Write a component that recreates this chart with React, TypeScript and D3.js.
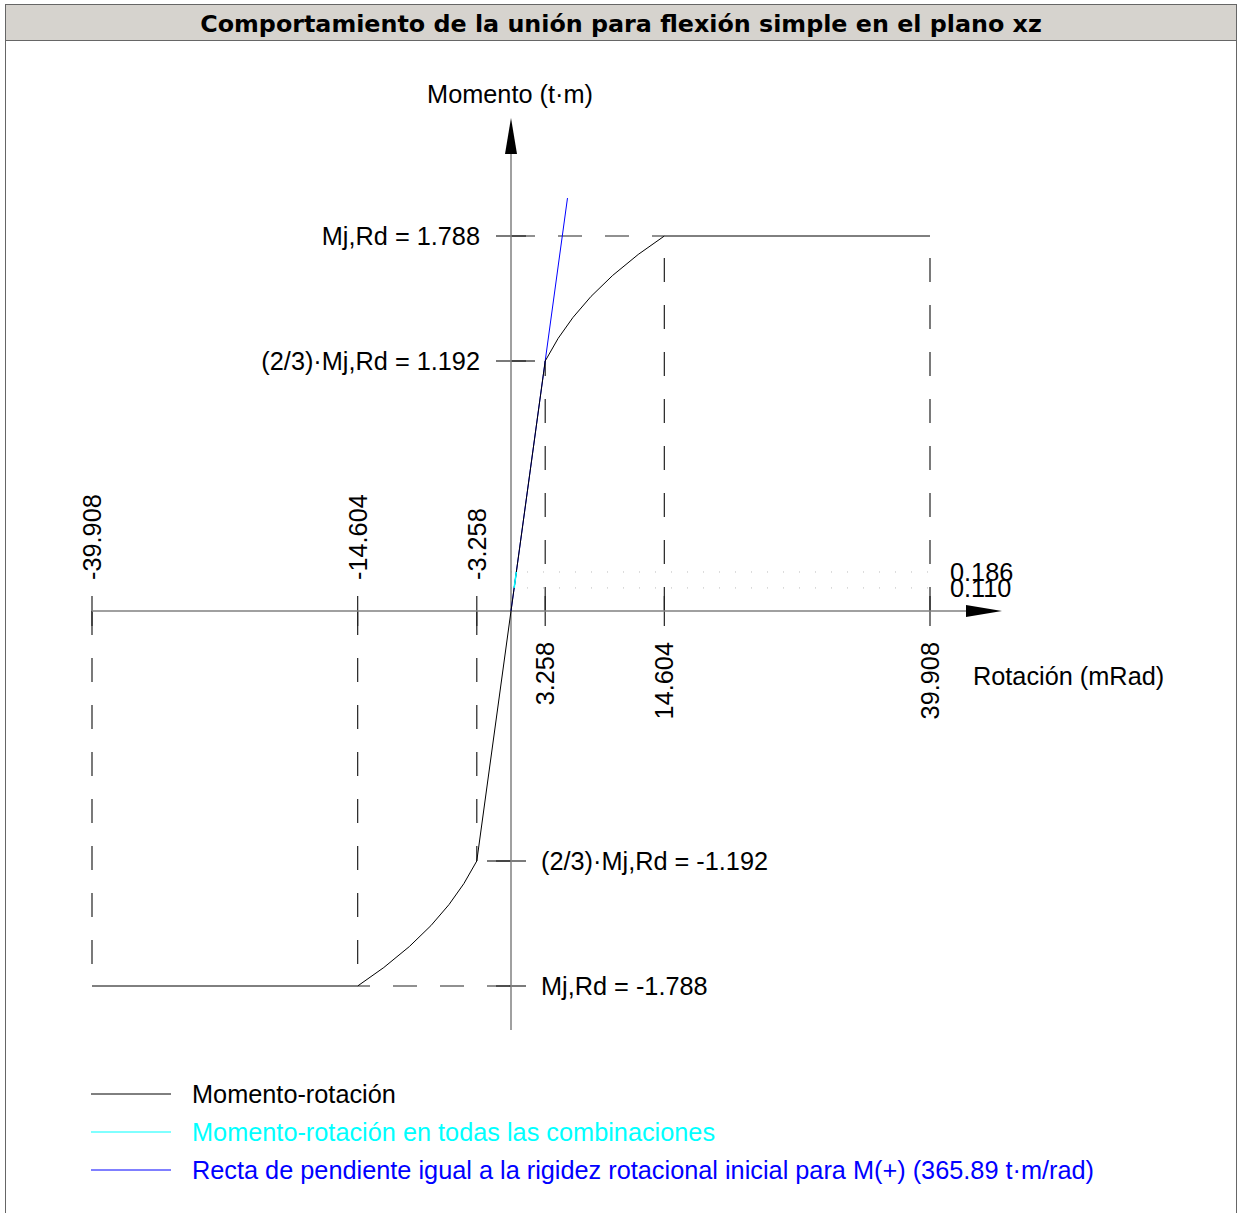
import React from "react";
import * as d3 from "d3";

// ---- data ----
const curvePhi = [-39.908, -14.604, -12.117, -9.683, -7.625, -5.907, -4.491, -3.258, 3.258, 4.491, 5.907, 7.625, 9.683, 12.117, 14.604, 39.908];
const curveM = [-1.788, -1.788, -1.7, -1.6, -1.5, -1.4, -1.3, -1.192, 1.192, 1.3, 1.4, 1.5, 1.6, 1.7, 1.788, 1.788];
const combPhi = [0.301, 0.508];
const combM = [0.110, 0.186];
const rigidPhi = [0, 5.38];
const rigidM = [0, 1.969];
const xTicks = [-39.908, -14.604, -3.258, 3.258, 14.604, 39.908];
const xTickLabels = ["-39.908", "-14.604", "-3.258", "3.258", "14.604", "39.908"];
const xTickM = [-1.788, -1.788, -1.192, 1.192, 1.788, 1.788];
const yTicks = [1.788, 1.192, -1.192, -1.788];
const yTickLabels = ["Mj,Rd = 1.788", "(2/3)·Mj,Rd = 1.192", "(2/3)·Mj,Rd = -1.192", "Mj,Rd = -1.788"];
const yTickPhi = [14.604, 3.258, -3.258, -14.604];
const combLevels = [0.186, 0.110];
const combLevelLabels = ["0.186", "0.110"];
const legendLabels = [
  "Momento-rotación",
  "Momento-rotación en todas las combinaciones",
  "Recta de pendiente igual a la rigidez rotacional inicial para M(+) (365.89 t·m/rad)",
];
const legendColors = ["#000000", "#00ffff", "#0000ff"];

const W = 1242;
const H = 1213;
const FONT = "'Liberation Sans', Arial, sans-serif";
const FS = 25.3;

export default function App() {
  const x = d3.scaleLinear().domain([-39.908, 39.908]).range([92, 930]);
  const y = d3.scaleLinear().domain([-1.788, 1.788]).range([986, 236]);
  const x0 = x(0);
  const y0 = y(0);
  const mk = (px: number[], pm: number[]) =>
    d3
      .line<number>()
      .x((d) => x(d))
      .y((_, i) => y(pm[i]))(px) as string;

  const dash = "24,23";
  const dashColor = "#222";

  return (
    <svg
      width={W}
      height={H}
      style={{ position: "absolute", left: 0, top: 0, background: "#fff" }}
      fontFamily={FONT}
    >
      {/* frame */}
      <rect x={5.5} y={4.5} width={1231} height={1215} fill="#fff" stroke="#666" strokeWidth={1} />
      <rect x={5.5} y={4.5} width={1231} height={36} fill="#d6d3ce" stroke="#666" strokeWidth={1} />
      <text
        x={621}
        y={23}
        dy="0.36em"
        textAnchor="middle"
        fontFamily="'DejaVu Sans', Verdana, sans-serif"
        fontWeight="bold"
        fontSize={23.8}
        fill="#000"
      >
        Comportamiento de la unión para flexión simple en el plano xz
      </text>

      {/* dotted combination levels */}
      {combLevels.map((m, i) => (
        <g key={"cl" + i}>
          <line x1={x0} x2={x(39.908)} y1={y(m)} y2={y(m)} stroke="#bbb" strokeWidth={1} strokeDasharray="1,15" />
          <text x={950} y={y(m)} dy="0.36em" fontSize={FS} fill="#000">
            {combLevelLabels[i]}
          </text>
        </g>
      ))}

      {/* vertical dashed lines & x ticks */}
      {xTicks.map((v, i) => (
        <g key={"xt" + i}>
          <line x1={x(v)} x2={x(v)} y1={y0} y2={y(xTickM[i])} stroke={dashColor} strokeWidth={1.2} strokeDasharray={dash} />
          <line x1={x(v)} x2={x(v)} y1={y0 - 15} y2={y0 + 15} stroke={dashColor} strokeWidth={1.2} />
          {v < 0 ? (
            <text
              transform={`translate(${x(v)},580) rotate(-90)`}
              dy="0.36em"
              textAnchor="start"
              fontSize={FS}
              fill="#000"
            >
              {xTickLabels[i]}
            </text>
          ) : (
            <text
              transform={`translate(${x(v)},642) rotate(-90)`}
              dy="0.36em"
              textAnchor="end"
              fontSize={FS}
              fill="#000"
            >
              {xTickLabels[i]}
            </text>
          )}
        </g>
      ))}

      {/* horizontal dashed lines & y ticks */}
      {yTicks.map((v, i) => (
        <g key={"yt" + i}>
          <line x1={x0} x2={x(yTickPhi[i])} y1={y(v)} y2={y(v)} stroke={dashColor} strokeWidth={1.2} strokeDasharray={dash} />
          <line x1={x0 - 15} x2={x0 + 15} y1={y(v)} y2={y(v)} stroke={dashColor} strokeWidth={1.2} />
          {v > 0 ? (
            <text x={480} y={y(v)} dy="0.36em" textAnchor="end" fontSize={FS} fill="#000">
              {yTickLabels[i]}
            </text>
          ) : (
            <text x={541} y={y(v)} dy="0.36em" textAnchor="start" fontSize={FS} fill="#000">
              {yTickLabels[i]}
            </text>
          )}
        </g>
      ))}

      {/* axes */}
      <line x1={92} x2={968} y1={y0} y2={y0} stroke="#808080" strokeWidth={1.5} />
      <line x1={x0} x2={x0} y1={1030} y2={152} stroke="#808080" strokeWidth={1.5} />
      <path d={`M${1002},${y0} L${966},${y0 - 6} L${966},${y0 + 6} Z`} fill="#000" />
      <path d={`M${x0},${118} L${x0 - 6},${154} L${x0 + 6},${154} Z`} fill="#000" />
      <text x={510} y={94} dy="0.36em" textAnchor="middle" fontSize={FS} fill="#000">
        Momento (t·m)
      </text>
      <text x={973} y={676} dy="0.36em" textAnchor="start" fontSize={FS} fill="#000">
        Rotación (mRad)
      </text>

      {/* series */}
      <path d={mk(rigidPhi, rigidM)} fill="none" stroke="#0000ff" strokeWidth={1} />
      <path d={mk(curvePhi, curveM)} fill="none" stroke="#000" strokeWidth={1} />
      <path d={mk(combPhi, combM)} fill="none" stroke="#00ffff" strokeWidth={1.5} />

      {/* legend */}
      {legendLabels.map((t, i) => (
        <g key={"lg" + i}>
          <line x1={91} x2={171} y1={1094 + i * 38} y2={1094 + i * 38} stroke={legendColors[i]} strokeWidth={1} />
          <text x={192} y={1094 + i * 38} dy="0.36em" fontSize={FS} fill={legendColors[i]}>
            {t}
          </text>
        </g>
      ))}
    </svg>
  );
}
